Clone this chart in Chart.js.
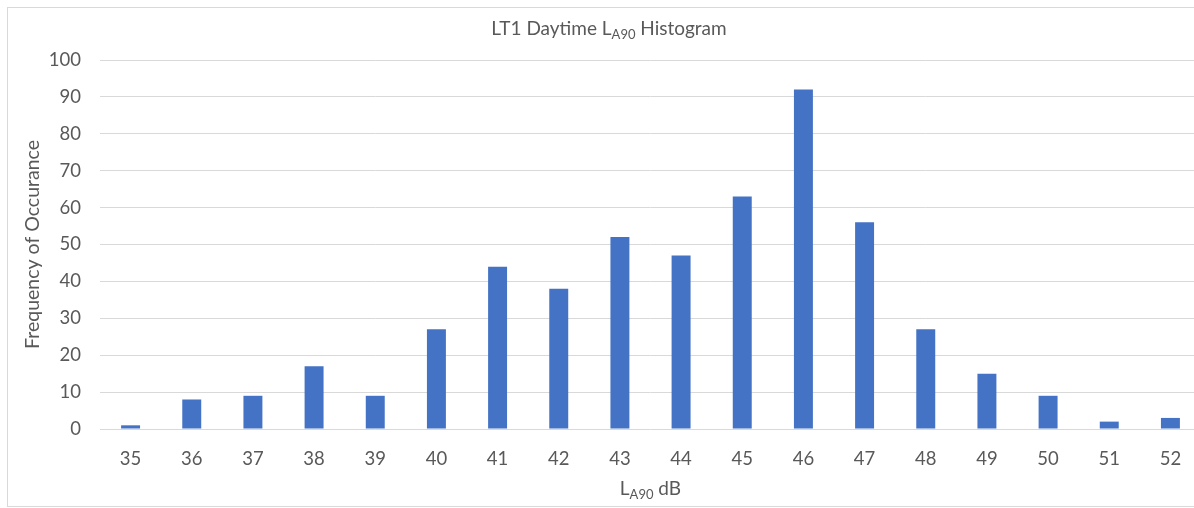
<!DOCTYPE html>
<html>
<head>
<meta charset="utf-8">
<script src="https://cdn.jsdelivr.net/npm/chart.js@4"></script>
<style>
  html, body { margin: 0; padding: 0; background: #fff; overflow: hidden; }
  #wrap { position: absolute; left: 0; top: 0; width: 1215px; height: 508px; }
</style>
</head>
<body>
<div id="wrap"><canvas id="myChart" width="1215" height="508"></canvas></div>
<script>
const niveis = ['35', '36', '37', '38', '39', '40', '41', '42', '43', '44', '45', '46', '47', '48', '49', '50', '51', '52'];
const frequencias = [1, 8, 9, 17, 9, 27, 44, 38, 52, 47, 63, 92, 56, 27, 15, 9, 2, 3];

const FONTE = 'Lato, "Open Sans", sans-serif';
const CINZA = '#595959';

// texto com subscrito: lista de [texto, ehSubscrito]
function textoComSub(ctx, partes, cx, baseline, tam) {
  const tamSub = Math.round(tam * 0.68);
  let total = 0;
  partes.forEach(([t, sub]) => {
    ctx.font = (sub ? tamSub : tam) + 'px ' + FONTE;
    total += ctx.measureText(t).width;
  });
  let x = cx - total / 2;
  ctx.textAlign = 'left';
  ctx.textBaseline = 'alphabetic';
  partes.forEach(([t, sub]) => {
    ctx.font = (sub ? tamSub : tam) + 'px ' + FONTE;
    ctx.fillText(t, x, baseline + (sub ? tam * 0.22 : 0));
    x += ctx.measureText(t).width;
  });
}

const moldura = {
  id: 'moldura',
  beforeDraw(chart) {
    const ctx = chart.ctx;
    ctx.save();
    ctx.strokeStyle = '#d9d9d9';
    ctx.lineWidth = 1;
    ctx.strokeRect(7.5, 7.5, 1203, 499);
    ctx.restore();
  },
  afterDraw(chart) {
    const ctx = chart.ctx;
    const area = chart.chartArea;
    ctx.save();
    ctx.fillStyle = CINZA;
    textoComSub(ctx, [['LT1 Daytime L', false], ['A90', true], [' Histogram', false]], 609, 35, 19);
    textoComSub(ctx, [['L', false], ['A90', true], [' dB', false]], (area.left + area.right) / 2, 495, 19);
    ctx.translate(39, (area.top + area.bottom) / 2);
    ctx.rotate(-Math.PI / 2);
    ctx.font = '19.5px ' + FONTE;
    ctx.textAlign = 'center';
    ctx.textBaseline = 'alphabetic';
    ctx.fillText('Frequency of Occurance', 0, 0);
    ctx.restore();
  }
};

function plotarGrafico() {
  const ctx = document.getElementById('myChart');
  new Chart(ctx, {
    type: 'bar',
    data: {
      labels: niveis,
      datasets: [{
        label: 'Frequency of Occurance',
        data: frequencias,
        backgroundColor: '#4472C4',
        borderColor: '#4472C4',
        borderWidth: 0,
        categoryPercentage: 1,
        barPercentage: 0.31
      }]
    },
    plugins: [moldura],
    options: {
      responsive: false,
      animation: false,
      layout: {
        padding: { left: 0, right: 14, top: 60, bottom: 0 }
      },
      scales: {
        x: {
          afterFit(scale) { scale.height = 79; },
          grid: { display: false },
          border: { display: false },
          ticks: {
            color: CINZA,
            font: { family: FONTE, size: 18.5 },
            padding: 11,
            maxRotation: 0,
            autoSkip: false
          }
        },
        y: {
          min: 0,
          max: 100,
          afterFit(scale) { scale.width = 100; },
          grid: { color: '#d9d9d9', lineWidth: 1, drawTicks: false },
          border: { display: false },
          ticks: {
            stepSize: 10,
            color: CINZA,
            font: { family: FONTE, size: 18.5 },
            padding: 19
          }
        }
      },
      plugins: {
        legend: { display: false },
        title: { display: false },
        tooltip: { enabled: false }
      }
    }
  });
}

plotarGrafico();
</script>
</body>
</html>
